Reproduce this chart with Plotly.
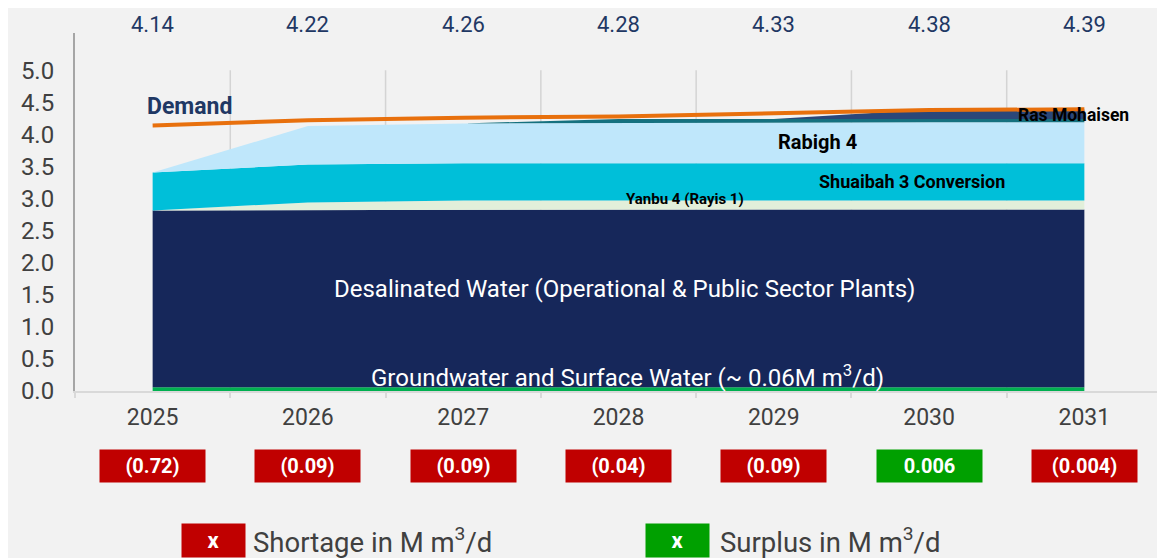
import plotly.graph_objects as go

years = ['2025', '2026', '2027', '2028', '2029', '2030', '2031']

# supply stack, M m3/d
groundwater = [0.06, 0.06, 0.06, 0.06, 0.06, 0.06, 0.06]
desalinated = [2.755, 2.76, 2.77, 2.77, 2.77, 2.77, 2.77]
yanbu4 = [0.0, 0.12, 0.14, 0.14, 0.14, 0.14, 0.14]
shuaibah3 = [0.59, 0.59, 0.58, 0.58, 0.58, 0.58, 0.58]
rabigh4 = [0.0, 0.60, 0.62, 0.63, 0.63, 0.64, 0.64]
other_plant = [0.0, 0.0, 0.0, 0.06, 0.06, 0.05, 0.05]
ras_mohaisen = [0.0, 0.0, 0.0, 0.0, 0.0, 0.146, 0.146]

demand = [4.14, 4.22, 4.26, 4.28, 4.33, 4.38, 4.39]
balance = [-0.72, -0.09, -0.09, -0.04, -0.09, 0.006, -0.004]

NAVY = '#16275A'
TXT = '#404040'
RED = '#C00000'
GREEN = '#00A000'

# page has an 8px body margin, so the figure is drawn 8px in from top/left
OFF = 8
W, H = 1165 - OFF, 558 - OFF
L, R, T, B = 75 - OFF, 3, 33 - OFF, 167
pw, ph = W - L - R, H - T - B


def px_x(x):
    # page pixel -> paper x
    return (x - OFF - L) / pw


def px_y(y):
    # page pixel -> paper y
    return (H - B - (y - OFF)) / ph


fig = go.Figure()

layers = [
    (groundwater, '#00B050'),
    (desalinated, NAVY),
    (yanbu4, '#E2EFDA'),
    (shuaibah3, '#00BFD9'),
    (rabigh4, '#BFE7FB'),
    (other_plant, '#15717F'),
    (ras_mohaisen, '#2B4779'),
]
for vals, col in layers:
    fig.add_trace(go.Scatter(x=years, y=vals, mode='lines', stackgroup='supply',
                             line=dict(width=0), fillcolor=col,
                             hoverinfo='skip', showlegend=False))

fig.add_trace(go.Scatter(x=years, y=demand, mode='lines',
                         line=dict(color='#E8700D', width=4),
                         showlegend=False))

# vertical gridlines between years
for i in range(len(years)):
    fig.add_shape(type='line', xref='x', yref='y', x0=i + 0.5, x1=i + 0.5,
                  y0=0, y1=5.0, line=dict(color='#D4D4D4', width=1.5), layer='below')

# demand values on top
for i, d in enumerate(demand):
    fig.add_annotation(x=i, y=px_y(24), xref='x', yref='paper',
                       text=f'{d:.2f}', showarrow=False,
                       xanchor='center', yanchor='middle',
                       font=dict(size=22, color='#1F3864'))

# shortage / surplus boxes
for i, v in enumerate(balance):
    txt = f'{abs(v):g}' if v >= 0 else f'({abs(v):g})'
    fig.add_annotation(x=i, y=px_y(466), xref='x', yref='paper',
                       text=f'<b>{txt}</b>', showarrow=False,
                       xanchor='center', yanchor='middle',
                       width=103, height=30, bgcolor=GREEN if v >= 0 else RED,
                       font=dict(size=20, color='white'))

# labels inside the areas
area_labels = [
    (0.24, 4.44, '<b>Demand</b>', 23, '#1F3864'),
    (4.28, 3.88, '<b>Rabigh 4</b>', 20, 'black'),
    (4.89, 3.27, '<b>Shuaibah 3 Conversion</b>', 18, 'black'),
    (3.43, 2.99, '<b>Yanbu 4 (Rayis 1)</b>', 15, 'black'),
    (5.93, 4.30, '<b>Ras Mohaisen</b>', 17.5, 'black'),
    (3.04, 1.59, 'Desalinated Water (Operational & Public Sector Plants)', 24, 'white'),
    (3.06, 0.23, 'Groundwater and Surface Water (~ 0.06M m<sup>3</sup>/d)', 24, 'white'),
]
for x, y, t, s, c in area_labels:
    fig.add_annotation(x=x, y=y, xref='x', yref='y', text=t, showarrow=False,
                       xanchor='center', yanchor='middle',
                       font=dict(size=s, color=c))

# bottom legend
for cx, tx, col, label in [(213.5, 251, RED, 'Shortage in M m<sup>3</sup>/d'),
                           (677.5, 718, GREEN, 'Surplus in M m<sup>3</sup>/d')]:
    fig.add_annotation(x=px_x(cx), y=px_y(540), xref='paper', yref='paper',
                       text='<b>x</b>', showarrow=False,
                       xanchor='center', yanchor='middle',
                       width=61, height=31, bgcolor=col,
                       font=dict(size=22, color='white'))
    fig.add_annotation(x=px_x(tx), y=px_y(540), xref='paper', yref='paper',
                       text=label, showarrow=False,
                       xanchor='left', yanchor='middle',
                       font=dict(size=27.5, color=TXT))

fig.update_layout(
    width=W, height=H,
    margin=dict(l=L, r=R, t=T, b=B),
    paper_bgcolor='#F2F2F2', plot_bgcolor='#F2F2F2',
    font=dict(family='Roboto', color=TXT),
    showlegend=False,
    xaxis=dict(type='category', range=[-0.5, 6.5], showgrid=False,
               showline=True, linecolor='#D9D9D9', linewidth=2,
               ticks='outside', tickson='boundaries', ticklen=5,
               tickcolor='#D9D9D9', tickwidth=2,
               tickfont=dict(size=23, color=TXT), ticklabelstandoff=4),
    yaxis=dict(range=[0, 5.58], tickvals=[i * 0.5 for i in range(11)],
               tickformat='.1f', showgrid=False, zeroline=False,
               showline=True, linecolor='#A6A6A6', linewidth=2,
               tickfont=dict(size=24, color=TXT), ticklabelstandoff=14),
)

fig.write_html('out.html')
